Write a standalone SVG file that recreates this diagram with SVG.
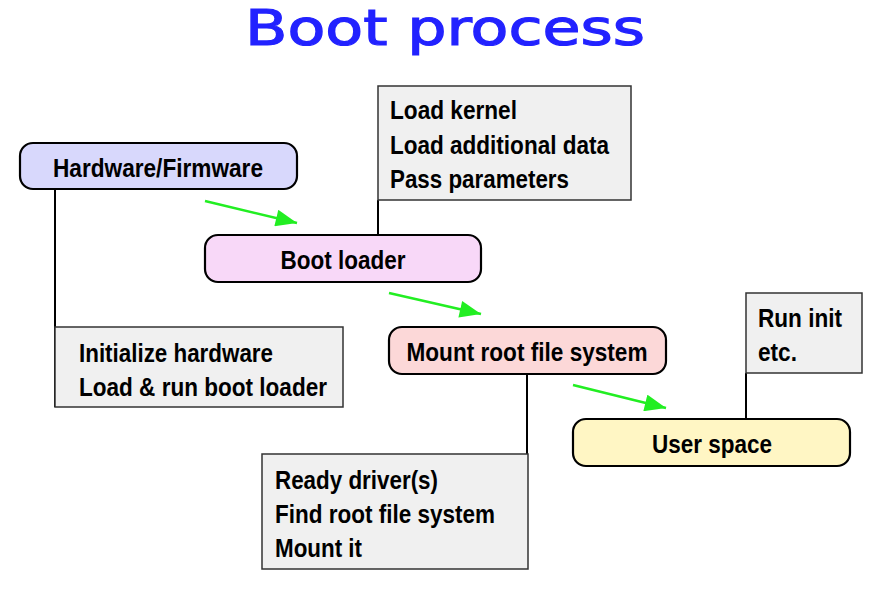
<svg xmlns="http://www.w3.org/2000/svg" width="879" height="592" viewBox="0 0 879 592">
<style>
.title{font-family:"DejaVu Sans","Liberation Sans",sans-serif;font-size:50px;fill:#2222ff;stroke:#2222ff;stroke-width:1.2}
.stage{stroke:#000;stroke-width:2.2}
.note{fill:#f0f0f0;stroke:#333;stroke-width:1.5}
.t{font-family:"Liberation Sans",Arial,sans-serif;font-weight:bold;font-size:25px;fill:#000}
.c{text-anchor:middle}
.line{stroke:#000;stroke-width:2;fill:none}
.arrow{stroke:#22ee22;stroke-width:2.5;fill:none}
</style>
<defs>
<marker id="ahg" viewBox="0 0 20 16" refX="20" refY="8" markerWidth="22" markerHeight="17" orient="auto" markerUnits="userSpaceOnUse">
<path d="M0,0 L20,8 L0,16 Z" fill="#22ee22"/>
</marker>
</defs>
<rect width="879" height="592" fill="#fff"/>
<text class="title" x="245" y="45" textLength="400" lengthAdjust="spacingAndGlyphs">Boot process</text>

<g id="connectors">
<path class="line" d="M55,189 V407"/>
<path class="line" d="M378,200 V235"/>
<path class="line" d="M527,374 V569"/>
<path class="line" d="M746,373 V419"/>
<path class="arrow" d="M205,201 L297,223" marker-end="url(#ahg)"/>
<path class="arrow" d="M389,293 L481,314" marker-end="url(#ahg)"/>
<path class="arrow" d="M573,385 L666,408" marker-end="url(#ahg)"/>
</g>

<g id="hw-note">
<rect class="note" x="55" y="327" width="288" height="80"/>
<text class="t" x="79" y="362" textLength="194" lengthAdjust="spacingAndGlyphs">Initialize hardware</text>
<text class="t" x="79" y="396" textLength="248" lengthAdjust="spacingAndGlyphs">Load &amp; run boot loader</text>
</g>
<g id="bl-note">
<rect class="note" x="378" y="86" width="253" height="114"/>
<text class="t" x="390" y="119" textLength="127" lengthAdjust="spacingAndGlyphs">Load kernel</text>
<text class="t" x="390" y="154" textLength="219" lengthAdjust="spacingAndGlyphs">Load additional data</text>
<text class="t" x="390" y="188" textLength="179" lengthAdjust="spacingAndGlyphs">Pass parameters</text>
</g>
<g id="mount-note">
<rect class="note" x="262" y="454" width="266" height="115"/>
<text class="t" x="275" y="489" textLength="163" lengthAdjust="spacingAndGlyphs">Ready driver(s)</text>
<text class="t" x="275" y="523" textLength="220" lengthAdjust="spacingAndGlyphs">Find root file system</text>
<text class="t" x="275" y="557" textLength="87" lengthAdjust="spacingAndGlyphs">Mount it</text>
</g>
<g id="user-note">
<rect class="note" x="746" y="293" width="116" height="80"/>
<text class="t" x="758" y="327" textLength="84" lengthAdjust="spacingAndGlyphs">Run init</text>
<text class="t" x="758" y="361" textLength="39" lengthAdjust="spacingAndGlyphs">etc.</text>
</g>

<g id="hardware">
<rect class="stage" x="20" y="143" width="277" height="46" rx="13" fill="#d8d8fc"/>
<text class="t c" x="158" y="177" textLength="210" lengthAdjust="spacingAndGlyphs">Hardware/Firmware</text>
</g>
<g id="bootloader">
<rect class="stage" x="205" y="235" width="276" height="47" rx="13" fill="#f8d8f8"/>
<text class="t c" x="343" y="269" textLength="125" lengthAdjust="spacingAndGlyphs">Boot loader</text>
</g>
<g id="mount">
<rect class="stage" x="389" y="327" width="277" height="47" rx="13" fill="#fcd8d8"/>
<text class="t c" x="527" y="361" textLength="241" lengthAdjust="spacingAndGlyphs">Mount root file system</text>
</g>
<g id="userspace">
<rect class="stage" x="573" y="419" width="277" height="47" rx="13" fill="#fff6c4"/>
<text class="t c" x="712" y="453" textLength="120" lengthAdjust="spacingAndGlyphs">User space</text>
</g>
</svg>
